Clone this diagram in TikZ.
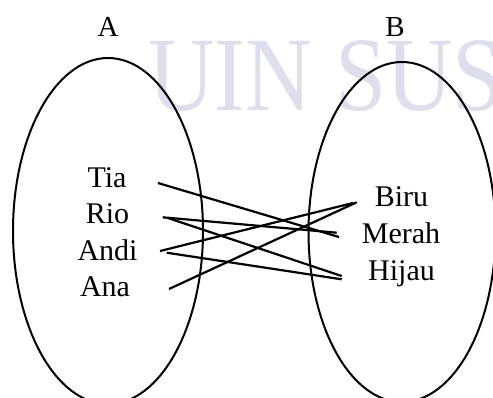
\documentclass[tikz,border=0pt]{standalone}
\usepackage{fontspec}
\setmainfont{Liberation Serif}
\definecolor{wmark}{RGB}{222,222,237}
\begin{document}
\begin{tikzpicture}[x=1pt,y=-1pt,
  setline/.style={line width=2pt},
  member/.style={inner sep=0pt,anchor=base,font=\fontsize{30}{36}\selectfont},
  setname/.style={inner sep=0pt,anchor=base,font=\fontsize{29}{35}\selectfont},
  mapline/.style={line width=2.2pt}]
\useasboundingbox (0,0) rectangle (493,397);
\fill[white] (0,0) rectangle (493,397);
% faint background lettering
\node[inner sep=0pt,anchor=base west,text=wmark,font=\fontsize{96}{96}\selectfont]
  (wm) at (148,110) {\scalebox{0.96}[1.1]{UIN SUS}};
% the two sets
\draw[setline] (108,231) ellipse [x radius=95, y radius=173];
\draw[setline] (402,232) ellipse [x radius=93.5, y radius=170];
\node[setname] (labA) at (108,36) {A};
\node[setname] (labB) at (395,36) {B};
% members of A
\node[member] (tia)  at (107,187) {Tia};
\node[member] (rio)  at (107.5,223.5) {Rio};
\node[member] (andi) at (107.5,260) {Andi};
\node[member] (ana)  at (105,296.5) {Ana};
% members of B
\node[member] (biru)  at (401.5,206) {Biru};
\node[member] (merah) at (401,243) {Merah};
\node[member] (hijau) at (401.5,280) {Hijau};
% line ends
\coordinate (tiaR)   at (158,183);
\coordinate (rioR1)  at (162.7,217.3);
\coordinate (rioR2)  at (168,218);
\coordinate (andiR1) at (160,251);
\coordinate (andiR2) at (166.7,252.7);
\coordinate (anaR)   at (169,289);
\coordinate (biruL1) at (353,203);
\coordinate (biruL2) at (356.7,202.3);
\coordinate (merahL1) at (339,237);
\coordinate (merahL2) at (336.7,232.7);
\coordinate (hijauL1) at (341.7,276);
\coordinate (hijauL2) at (341.7,279.3);
% the relation
\draw[mapline] (tiaR) -- (merahL1);
\draw[mapline] (rioR1) -- (merahL2);
\draw[mapline] (rioR2) -- (hijauL1);
\draw[mapline] (andiR1) -- (biruL1);
\draw[mapline] (andiR2) -- (hijauL2);
\draw[mapline] (anaR) -- (biruL2);
\end{tikzpicture}
\end{document}
